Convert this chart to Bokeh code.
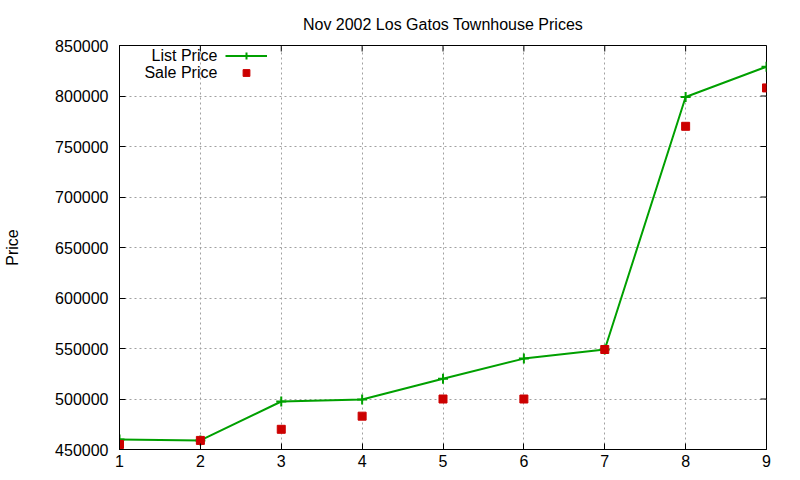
import numpy as np
from bokeh.plotting import figure
from bokeh.models import (Range1d, FixedTicker, BasicTickFormatter, LinearAxis,
                          Grid, Legend, LegendItem, Label)
from bokeh.embed import file_html
from bokeh.resources import INLINE

# data
lots = [1, 2, 3, 4, 5, 6, 7, 8, 9]
list_price = [460000, 459000, 497500, 499500, 520000, 540000, 549000, 799000, 829000]
sale_price = [455000, 459000, 470000, 483000, 500000, 500000, 549000, 770000, 808000]
y_ticks = [450000, 500000, 550000, 600000, 650000, 700000, 750000, 800000, 850000]
series_names = ["List Price", "Sale Price"]
title = "Nov 2002 Los Gatos Townhouse Prices"

FONT = "Liberation Sans"
GREEN = "#00a000"
RED = "#cc0000"

W, H = 800, 480
LEFT, RIGHT, TOP, BOTTOM = 119, 34, 45, 31
x0, x1 = 1, 9
y0, y1 = 450000, 850000
px_y = (y1 - y0) / (H - TOP - BOTTOM)   # data units per pixel
px_x = (x1 - x0) / (W - LEFT - RIGHT)

p = figure(width=W, height=H, output_backend="svg", toolbar_location=None,
           x_range=Range1d(x0, x1), y_range=Range1d(y0, y1),
           min_border_left=LEFT, min_border_right=RIGHT, min_border_top=TOP,
           min_border_bottom=BOTTOM, x_axis_type=None, y_axis_type=None)

p.title.text = title
p.title.text_font = FONT
p.title.text_font_size = "16px"
p.title.text_font_style = "normal"
p.title.text_color = "#000000"
p.title.align = "center"
p.title.offset = -2
p.title.standoff = 26

p.outline_line_color = "black"
p.outline_line_width = 1
p.background_fill_color = "white"
p.border_fill_color = "white"


def make_axis(ticks):
    ax = LinearAxis(ticker=FixedTicker(ticks=ticks),
                    formatter=BasicTickFormatter(use_scientific=False))
    ax.major_tick_in = 6
    ax.major_tick_out = 0
    ax.minor_tick_line_color = None
    ax.axis_line_color = "black"
    ax.major_tick_line_color = "black"
    ax.major_label_text_font = FONT
    ax.major_label_text_font_size = "16px"
    ax.major_label_text_color = "#000000"
    return ax


xb = make_axis(lots)
xb.major_label_standoff = 5
p.add_layout(xb, "below")

yl = make_axis(y_ticks)
yl.major_label_standoff = 11
yl.axis_label = "Price"
yl.axis_label_text_font = FONT
yl.axis_label_text_font_size = "16px"
yl.axis_label_text_font_style = "normal"
yl.axis_label_text_color = "#000000"
yl.axis_label_standoff = 31
p.add_layout(yl, "left")

# dotted grid
for dim, ticks in ((0, lots), (1, y_ticks)):
    g = Grid(dimension=dim, ticker=FixedTicker(ticks=ticks),
             grid_line_color="#a0a0a0", grid_line_dash="2 3", grid_line_width=1)
    p.add_layout(g)

# mirrored inward ticks on the top and right border (6 px long)
p.segment(x0=lots, y0=[y1] * len(lots), x1=lots, y1=[y1 - 6 * px_y] * len(lots),
          line_color="black", line_width=1)
p.segment(x0=[x1] * len(y_ticks), y0=y_ticks, x1=[x1 - 6 * px_x] * len(y_ticks),
          y1=y_ticks, line_color="black", line_width=1)

# list price: line with + points
list_line = p.line(lots, list_price, line_color=GREEN, line_width=2)
list_pts = p.scatter(lots, list_price, marker="cross", size=10,
                     line_color=GREEN, line_width=2)

# sale price: red squares
sale_pts = p.scatter(lots, sale_price, marker="square", size=8,
                     fill_color=RED, line_color=RED)

# gnuplot style key: text on the left, sample on the right
legend = Legend(items=[LegendItem(label=" ", renderers=[list_line, list_pts]),
                       LegendItem(label=" ", renderers=[sale_pts])],
                location=(106, 368), glyph_width=42, glyph_height=17,
                label_width=0, label_height=17, label_standoff=0,
                label_text_font_size="8px", padding=0, spacing=0, margin=0,
                border_line_color=None, background_fill_alpha=0)
p.add_layout(legend)

for name, yv in zip(series_names, [840100, 823300]):
    p.add_layout(Label(x=2.21, y=yv, text=name, text_align="right",
                       text_baseline="middle", text_font=FONT,
                       text_font_size="16px", text_color="#000000"))

open("out.html", "w").write(file_html(p, INLINE))
